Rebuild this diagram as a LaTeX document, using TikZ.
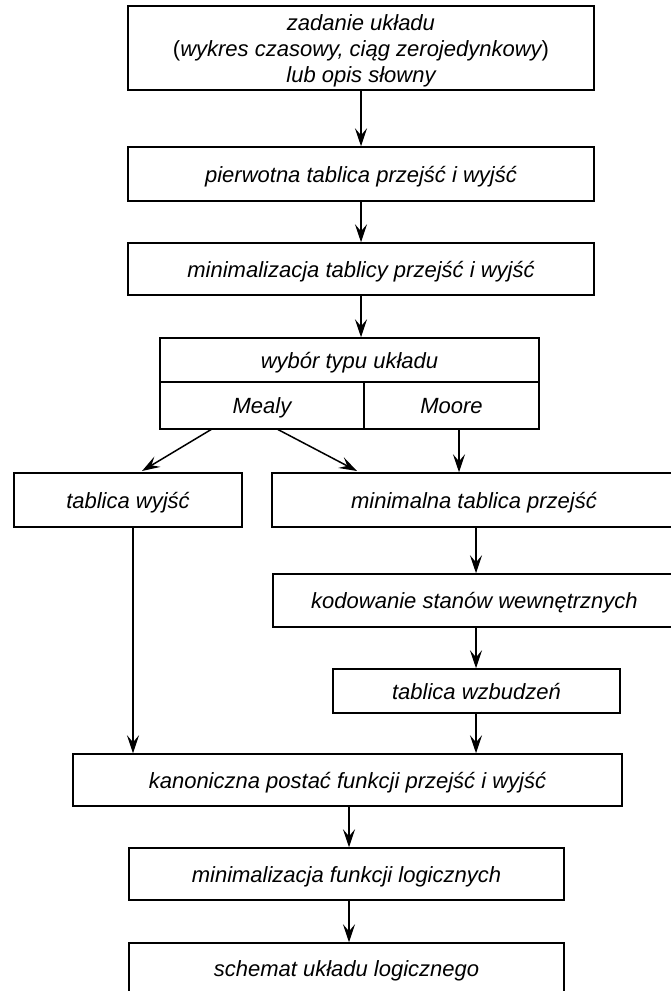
\documentclass[tikz,border=0pt]{standalone}
\usepackage{fontspec}
\setmainfont{Liberation Sans}
\usetikzlibrary{arrows.meta}

\tikzset{
  blok/.style={draw, line width=1.5pt, inner sep=0pt, align=center,
    font=\itshape\fontsize{22}{26}\selectfont},
  jedna/.style={text height=19pt, text depth=3pt},
  napis/.style={inner sep=0pt, jedna, font=\itshape\fontsize{22}{26}\selectfont},
  strz/.style={line width=1.5pt, -{Stealth[length=18pt,width=12pt,inset=7pt]}},
}

\begin{document}
\begin{tikzpicture}[x=1pt, y=-1pt]
    \useasboundingbox (0,0) rectangle (671,991);
    \clip (0,0) rectangle (671,991);

    % Bloki w kolumnie głównej
    \node[blok, minimum width=466pt, minimum height=84pt] (zad) at (361,48)
        {\rule{0pt}{22pt}zadanie układu\\{\upshape(}wykres czasowy, ciąg zerojedynkowy{\upshape)}\\lub opis słowny};
    \node[blok, jedna, minimum width=466pt, minimum height=54pt] (pierw) at (361,174)
        {pierwotna tablica przejść i wyjść};
    \node[blok, jedna, minimum width=466pt, minimum height=52pt] (minTab) at (361,269)
        {minimalizacja tablicy przejść i wyjść};

    % Wybór typu układu: blok dzielony na Mealy / Moore
    \node[blok, minimum width=379pt, minimum height=91pt] (typ) at (349.5,383.5) {};
    \draw[line width=1.5pt] (typ.west |- 0,382) -- (typ.east |- 0,382);
    \draw[line width=1.5pt] (364,382) -- (364,0 |- typ.south);
    \node[napis] (wybor) at (349.5,360) {wybór typu układu};
    \node[napis] (mealy) at (262,405.5) {Mealy};
    \node[napis] (moore) at (451.5,405.5) {Moore};

    % Gałęzie
    \node[blok, jedna, minimum width=228pt, minimum height=54pt] (wyj) at (128,500) {tablica wyjść};
    \node[blok, jedna, minimum width=404pt, minimum height=54pt] (minPrz) at (474,500)
        {minimalna tablica przejść};
    \node[blok, jedna, minimum width=403pt, minimum height=53pt] (kod) at (474.5,600.5)
        {kodowanie stanów wewnętrznych};
    \node[blok, jedna, minimum width=287pt, minimum height=44pt] (wzb) at (476.5,691) {tablica wzbudzeń};

    % Część końcowa
    \node[blok, jedna, minimum width=549pt, minimum height=52pt] (kan) at (347.5,780)
        {kanoniczna postać funkcji przejść i wyjść};
    \node[blok, jedna, minimum width=435pt, minimum height=52pt] (minFun) at (346.5,874)
        {minimalizacja funkcji logicznych};
    \node[blok, jedna, minimum width=435pt, minimum height=50pt] (schem) at (346.5,968)
        {schemat układu logicznego};

    % Punkty startu strzałek z bloku wyboru
    \coordinate (mealyA) at (212,429);
    \coordinate (mealyB) at (277,429);
    \coordinate (wyjIn) at (142,471);
    \coordinate (przIn) at (357,471);
    \coordinate (mooreOut) at (459,429);

    % Strzałki
    \draw[strz] (zad.south) -- (pierw.north);
    \draw[strz] (pierw.south) -- (minTab.north);
    \draw[strz] (minTab.south) -- (minTab.south |- typ.north);
    \draw[strz] (mealyA) -- (wyjIn);
    \draw[strz] (mealyB) -- (przIn);
    \draw[strz] (mooreOut) -- (mooreOut |- minPrz.north);
    \draw[strz] (476,0 |- minPrz.south) -- (476,0 |- kod.north);
    \draw[strz] (476,0 |- kod.south) -- (476,0 |- wzb.north);
    \draw[strz] (476,0 |- wzb.south) -- (476,0 |- kan.north);
    \draw[strz] ([xshift=5pt]wyj.south) -- ([xshift=5pt]wyj.south |- kan.north);
    \draw[strz] (349,0 |- kan.south) -- (349,0 |- minFun.north);
    \draw[strz] (349,0 |- minFun.south) -- (349,0 |- schem.north);

\end{tikzpicture}
\end{document}
